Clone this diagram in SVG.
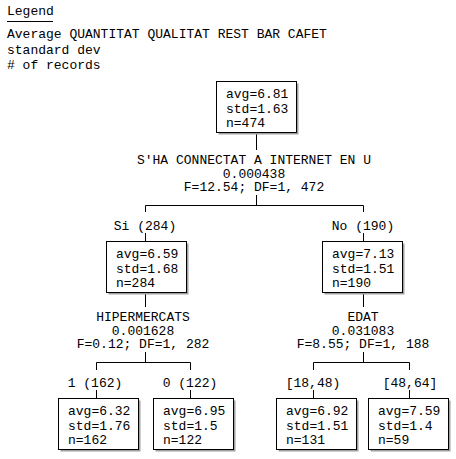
<svg xmlns="http://www.w3.org/2000/svg" width="456" height="459" viewBox="0 0 456 459">
<style>
text{font-family:"Liberation Mono","Courier New",monospace;font-size:13px;fill:#000}
.c{text-anchor:middle}
.box{fill:#fff;stroke:#000;stroke-width:1}
.sh{fill:#a0a0a0}
.ln{stroke:#000;stroke-width:1;fill:none}
</style>
<rect width="456" height="459" fill="#fff"/>
<g id="legend">
<text x="7" y="15">Legend</text>
<line class="ln" x1="7" y1="21.5" x2="53" y2="21.5"/>
<text x="7" y="38">Average QUANTITAT QUALITAT REST BAR CAFET</text>
<text x="7" y="53.5">standard dev</text>
<text x="7" y="69"># of records</text>
</g>
<g id="connectors">
<path class="ln" d="M256.5 132.5V150M256.5 195V205.5M145.5 205.5H363.5M145.5 205.5V212M363.5 205.5V212M145.5 233V241.5M363.5 233V241.5"/>
<path class="ln" d="M145.5 292.5V307M145.5 352V362.5M96.5 362.5H190.5M96.5 362.5V370M190.5 362.5V370M96.5 390V398.5M190.5 390V398.5"/>
<path class="ln" d="M363.5 292.5V307M363.5 352V362.5M313.5 362.5H409.5M313.5 362.5V370M409.5 362.5V370M313.5 390V398.5M409.5 390V398.5"/>
</g>
<g id="split-root">
<text class="c" x="254" y="164">S'HA CONNECTAT A INTERNET EN U</text>
<text class="c" x="254" y="177.5">0.000438</text>
<text class="c" x="254" y="191">F=12.54; DF=1, 472</text>
</g>
<g id="label-si"><text class="c" x="145" y="229.5">Si (284)</text></g>
<g id="label-no"><text class="c" x="363" y="229.5">No (190)</text></g>
<g id="split-si">
<text class="c" x="143" y="321">HIPERMERCATS</text>
<text class="c" x="143" y="334.5">0.001628</text>
<text class="c" x="143" y="348">F=0.12; DF=1, 282</text>
</g>
<g id="split-no">
<text class="c" x="363" y="321">EDAT</text>
<text class="c" x="363" y="334.5">0.031083</text>
<text class="c" x="363" y="348">F=8.55; DF=1, 188</text>
</g>
<g id="label-1"><text class="c" x="95" y="386.5">1 (162)</text></g>
<g id="label-0"><text class="c" x="190" y="386.5">0 (122)</text></g>
<g id="label-18"><text class="c" x="313" y="386.5">[18,48)</text></g>
<g id="label-48"><text class="c" x="410" y="386.5">[48,64]</text></g>
<g id="node-root">
<rect class="sh" x="218.5" y="83.5" width="80" height="51"/>
<rect class="box" x="216.5" y="81.5" width="80" height="51"/>
<text x="226" y="98">avg=6.81</text><text x="226" y="112.5">std=1.63</text><text x="226" y="127">n=474</text>
</g>
<g id="node-si">
<rect class="sh" x="108.5" y="243.5" width="80" height="51"/>
<rect class="box" x="106.5" y="241.5" width="80" height="51"/>
<text x="116" y="258">avg=6.59</text><text x="116" y="272.5">std=1.68</text><text x="116" y="287">n=284</text>
</g>
<g id="node-no">
<rect class="sh" x="324.5" y="243.5" width="80" height="51"/>
<rect class="box" x="322.5" y="241.5" width="80" height="51"/>
<text x="332" y="258">avg=7.13</text><text x="332" y="272.5">std=1.51</text><text x="332" y="287">n=190</text>
</g>
<g id="node-1">
<rect class="sh" x="60.5" y="400.5" width="80" height="51"/>
<rect class="box" x="58.5" y="398.5" width="80" height="51"/>
<text x="68" y="415">avg=6.32</text><text x="68" y="429.5">std=1.76</text><text x="68" y="444">n=162</text>
</g>
<g id="node-0">
<rect class="sh" x="155.5" y="400.5" width="80" height="51"/>
<rect class="box" x="153.5" y="398.5" width="80" height="51"/>
<text x="163" y="415">avg=6.95</text><text x="163" y="429.5">std=1.5</text><text x="163" y="444">n=122</text>
</g>
<g id="node-18">
<rect class="sh" x="278.5" y="400.5" width="80" height="51"/>
<rect class="box" x="276.5" y="398.5" width="80" height="51"/>
<text x="286" y="415">avg=6.92</text><text x="286" y="429.5">std=1.51</text><text x="286" y="444">n=131</text>
</g>
<g id="node-48">
<rect class="sh" x="370.5" y="400.5" width="80" height="51"/>
<rect class="box" x="368.5" y="398.5" width="80" height="51"/>
<text x="378" y="415">avg=7.59</text><text x="378" y="429.5">std=1.4</text><text x="378" y="444">n=59</text>
</g>
</svg>
